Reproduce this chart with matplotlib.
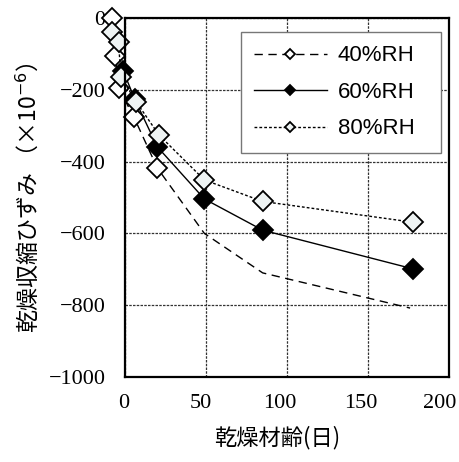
import matplotlib.pyplot as plt
from matplotlib.transforms import ScaledTranslation

# 乾燥収縮ひずみ
x40 = [-8, -6, -4, 5.5, 20, 49, 85, 176]
y40 = [0, -106, -195, -276, -418, -600, -710, -808]
x60 = [-1, 6, 20, 49, 85, 178]
y60 = [-148, -226, -359, -504, -591, -699]
x80 = [-8, -4, -2.5, 7, 21, 49, 85, 178]
y80 = [-39, -67, -164, -234, -326, -451, -511, -569]
labels = ['40%RH', '60%RH', '80%RH']

jp = ['Noto Sans CJK JP', 'DejaVu Sans']
serif = 'Liberation Serif'

fig = plt.figure(figsize=(4.6, 4.62), dpi=100)
ax = fig.add_axes([0.2717, 0.184, 0.7043, 0.777])

ax.plot(x40, y40, color='black', lw=1.0, ls=(0, (6, 4)), marker='D', ms=10,
        mfc='white', mec='black', mew=1.3, markevery=list(range(5)),
        clip_on=False, label=labels[0])
ax.plot(x60, y60, color='black', lw=1.0, ls='-', marker='D', ms=10,
        mfc='black', mec='black', mew=1.3, clip_on=False, label=labels[1])
ax.plot(x80, y80, color='black', lw=1.0, ls=(0, (2, 1.5)), marker='D', ms=10,
        mfc='#eef3f3', mec='black', mew=1.3, clip_on=False, label=labels[2])

ax.set_xlim(0, 200)
ax.set_ylim(-1000, 0)
ax.set_xticks(range(0, 201, 50))
ax.set_yticks(range(-1000, 1, 200))
ax.tick_params(length=0, labelsize=16)
ax.tick_params(axis='x', pad=12)
ax.tick_params(axis='y', pad=14)
for t in ax.get_xticklabels() + ax.get_yticklabels():
    t.set_fontfamily(serif)

# 目盛ラベルは元図でわずかに左寄り
shifts = [-1, -5, -7, -7, -9]
for t, dx in zip(ax.get_xticklabels(), shifts):
    t.set_transform(t.get_transform() + ScaledTranslation(dx / 100, 0, fig.dpi_scale_trans))

ax.grid(True, color='#333333', lw=0.9, ls=(0, (2, 1)))
for s in ax.spines.values():
    s.set_linewidth(1.6)
    s.set_color('black')

ax.set_xlabel('乾燥材齢(日)', family=jp, fontsize=16)
ax.xaxis.set_label_coords(0.469, -0.135)
ax.set_ylabel('乾燥収縮ひずみ （×10$^{-6}$）', family=jp, fontsize=16.5, labelpad=6)

leg = ax.legend(loc='upper left', bbox_to_anchor=(0.358, 0.5, 0.617, 0.461),
                mode='expand', borderaxespad=0, fancybox=False,
                edgecolor='#777777', framealpha=1, markerscale=0.55,
                handlelength=3.25, labelspacing=0.7, borderpad=0.6,
                handletextpad=0.5, prop={'family': 'Liberation Sans', 'size': 16})
leg.get_frame().set_linewidth(1.0)

plt.savefig('out.png', dpi=100)
